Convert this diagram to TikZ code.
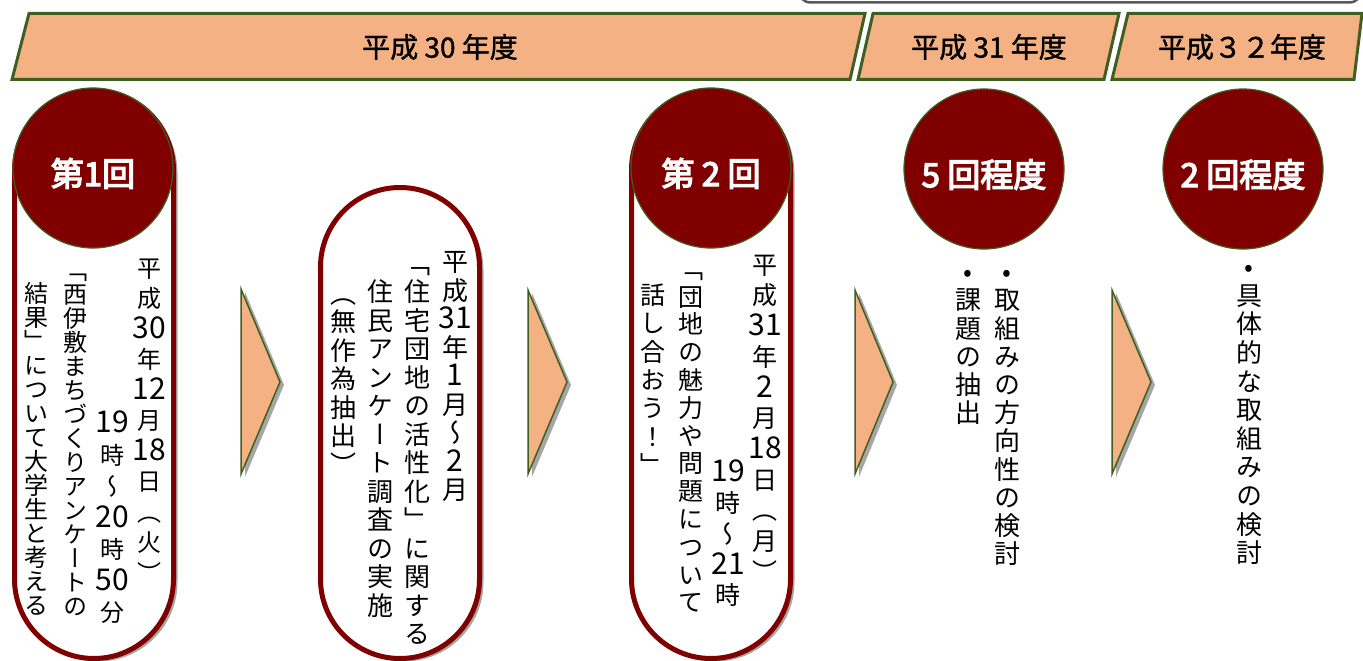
\documentclass[tikz,border=0pt]{standalone}
\usepackage{fontspec}
\setmainfont{Noto Sans CJK JP}
\newfontfamily\jp{Noto Sans CJK JP}[FakeBold=1.2]
\newfontfamily\jpb{Noto Sans CJK JP}[FakeBold=4]
\newfontfamily\tate{Noto Sans CJK JP}[RawFeature=+vert]
\usetikzlibrary{shadows}
\definecolor{peach}{HTML}{F4B183}
\definecolor{dgreen}{HTML}{3F5F22}
\definecolor{maroon}{HTML}{800000}
\definecolor{framegray}{HTML}{595959}
\newcommand\D[1]{{\fontsize{30}{30}\selectfont #1}}
\newcommand\fl{\vrule width 0pt height 0.9em\relax}
\newcommand\vcol[3]{\tate\fontsize{#1}{#2}\selectfont
  \vbox{\lineskiplimit=-100pt\lineskip=0pt\halign{\hfil##\hfil\cr#3\crcr}}}
\tikzset{
  band/.style={draw=dgreen, line width=3pt, fill=peach, line join=miter},
  hdr/.style={font=\jp\fontsize{28}{28}\selectfont, inner sep=0pt},
  pill/.style={draw=maroon, line width=5pt, fill=white, rounded corners=79.5pt,
    drop shadow={opacity=0.35, shadow xshift=4pt, shadow yshift=-3pt, fill=black}},
  badge/.style={circle, fill=maroon, draw=dgreen, line width=1.2pt, minimum size=160pt,
    inner sep=0pt, text=white, text height=36pt, text depth=0pt,
    font=\jpb\fontsize{33}{33}\selectfont},
  chev/.style={draw=dgreen, line width=1.5pt, fill=peach, line join=miter,
    drop shadow={opacity=0.35, shadow xshift=4pt, shadow yshift=-3pt, fill=black}},
  vc/.style={anchor=north, inner sep=0pt},
}
\begin{document}
\begin{tikzpicture}[x=1pt, y=-1pt]
\useasboundingbox (0,0) rectangle (1363,661);
% frame at top right
\draw[framegray, line width=2.5pt, rounded corners=10pt] (800,-30) rectangle (1360,2.5);
% header bands
\draw[band] (29,13.5) -- (865,13.5) -- (850,79.5) -- (12,79.5) -- cycle;
\draw[band] (873,13.5) -- (1119,13.5) -- (1104,79.5) -- (858,79.5) -- cycle;
\draw[band] (1128,13.5) -- (1362,13.5) -- (1354,79.5) -- (1112,79.5) -- cycle;
\node[hdr] (h1) at (440,47) {平成 30 年度};
\node[hdr] (h2) at (989,47) {平成 31 年度};
\node[hdr] (h3) at (1242,47) {平成３２年度};
% pills
\draw[pill] (14.5,90.5) rectangle (173.5,658.5);
\draw[pill] (320.5,187.5) rectangle (479.5,658.5);
\draw[pill] (631.5,90.5) rectangle (790.5,658.5);
% chevrons
\draw[chev] (241,289) -- (280,382) -- (241,474) -- cycle;
\draw[chev] (528,290) -- (567,382) -- (528,474) -- cycle;
\draw[chev] (855,290) -- (893,382) -- (855,474) -- cycle;
\draw[chev] (1112,290) -- (1151,382) -- (1112,474) -- cycle;
% badges
\node[badge] (b1) at (93,168) {第1回};
\node[badge] (b2) at (711,168) {第 2 回};
\node[badge] (b3) at (984,169) {5 回程度};
\node[badge] (b4) at (1243,169) {2 回程度};
% pill 1 columns
\node[vc] (c1a) at (149,255.5) {\vcol{24}{30.5}{\fl 平\cr 成\cr \D{30}\cr 年\cr \D{12}\cr 月\cr \D{18}\cr 日\cr （\cr 火\cr ）}};
\node[vc] (c1b) at (112,411) {\vcol{24}{31.5}{\fl\D{19}\cr 時\cr ～\cr \D{20}\cr 時\cr \D{50}\cr 分}};
\node[vc] (c1c) at (75,257.5) {\vcol{24}{24}{\fl「\cr 西\cr 伊\cr 敷\cr ま\cr ち\cr づ\cr く\cr り\cr ア\cr ン\cr ケ\cr ー\cr ト\cr の}};
\node[vc] (c1d) at (36,280.5) {\vcol{24}{24}{\fl 結\cr 果\cr 」\cr に\cr つ\cr い\cr て\cr 大\cr 学\cr 生\cr と\cr 考\cr え\cr る}};
% pill 2 columns
\node[vc] (c2a) at (455,248) {\vcol{26}{28.5}{\fl 平\cr 成\cr \D{31}\cr 年\cr \D{1}\cr 月\cr ～\cr \D{2}\cr 月}};
\node[vc] (c2b) at (417,249.5) {\vcol{26}{28.5}{\fl「\cr 住\cr 宅\cr 団\cr 地\cr の\cr 活\cr 性\cr 化\cr 」\cr に\cr 関\cr す\cr る}};
\node[vc] (c2c) at (380,278) {\vcol{26}{28.5}{\fl 住\cr 民\cr ア\cr ン\cr ケ\cr ー\cr ト\cr 調\cr 査\cr の\cr 実\cr 施}};
\node[vc] (c2d) at (343,279.5) {\vcol{26}{28.5}{\fl（\cr 無\cr 作\cr 為\cr 抽\cr 出\cr ）}};
% pill 3 columns
\node[vc] (c3a) at (765,251.5) {\vcol{25}{30.7}{\fl 平\cr 成\cr \D{31}\cr 年\cr \D{2}\cr 月\cr \D{18}\cr 日\cr （\cr 月\cr ）}};
\node[vc] (c3b) at (728,459) {\vcol{25}{30.8}{\fl\D{19}\cr 時\cr ～\cr \D{21}\cr 時}};
\node[vc] (c3c) at (691,255.5) {\vcol{25}{27.8}{\fl「\cr 団\cr 地\cr の\cr 魅\cr 力\cr や\cr 問\cr 題\cr に\cr つ\cr い\cr て}};
\node[vc] (c3d) at (653,281.5) {\vcol{25}{28.4}{\fl 話\cr し\cr 合\cr お\cr う\cr ！\cr 」}};
% later columns
\node[vc] (c4a) at (1007,258) {\vcol{26}{28.2}{\fl •\cr 取\cr 組\cr み\cr の\cr 方\cr 向\cr 性\cr の\cr 検\cr 討}};
\node[vc] (c4b) at (968,258) {\vcol{26}{28.2}{\fl •\cr 課\cr 題\cr の\cr 抽\cr 出}};
\node[vc] (c5a) at (1249,253) {\vcol{26}{28.6}{\fl •\cr 具\cr 体\cr 的\cr な\cr 取\cr 組\cr み\cr の\cr 検\cr 討}};
\end{tikzpicture}
\end{document}
